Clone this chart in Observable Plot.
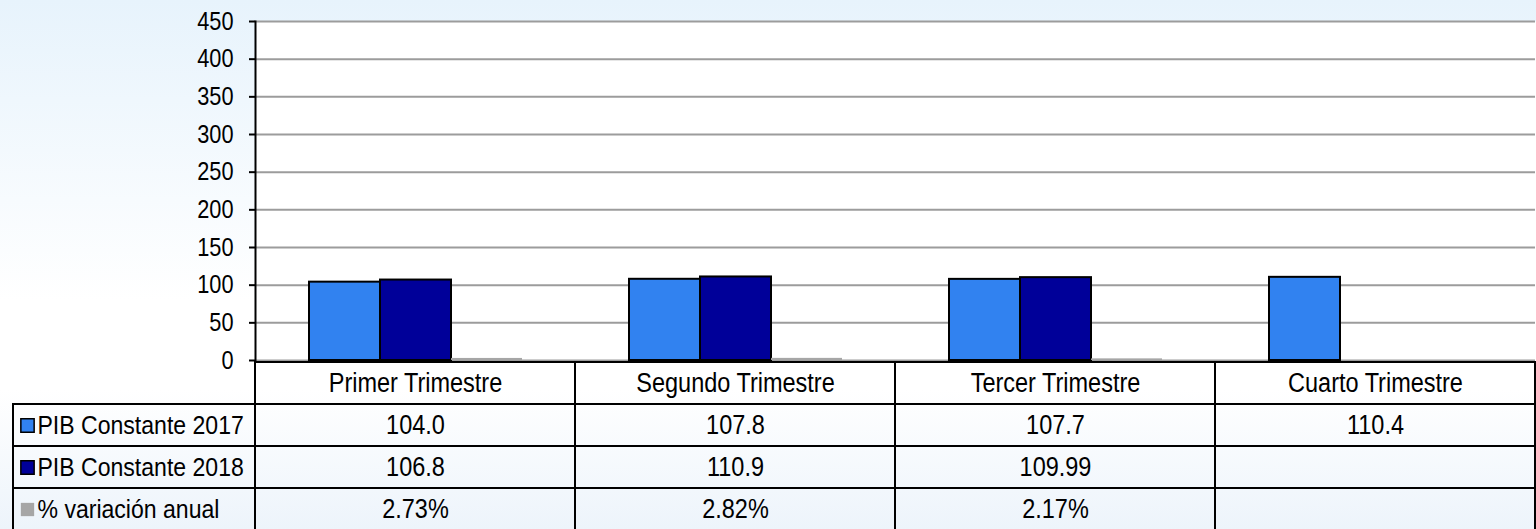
<!DOCTYPE html>
<html>
<head>
<meta charset="utf-8">
<script src="https://cdn.jsdelivr.net/npm/d3@7"></script>
<script src="https://cdn.jsdelivr.net/npm/@observablehq/plot@0.6"></script>
<style>
html, body {
  margin: 0; padding: 0; width: 1536px; height: 529px; overflow: hidden;
  background: linear-gradient(180deg, #e7f3fc 0px, #ffffff 300px, #ffffff 390px, #edf4fb 529px);
}
#chart { position: relative; width: 1536px; height: 529px; }
#chart svg { position: absolute; left: 0; display: block; background: transparent; }
</style>
</head>
<body>
<div id="chart"></div>
<script>
// ---- data ----
const categories = ["Primer Trimestre", "Segundo Trimestre", "Tercer Trimestre", "Cuarto Trimestre"];
const seriesNames = ["PIB Constante 2017", "PIB Constante 2018", "% variación anual"];
const pib2017 = [104.0, 107.8, 107.7, 110.4];
const pib2018 = [106.8, 110.9, 109.99, null];
const variacion = [2.73, 2.82, 2.17, null];
const label2017 = ["104.0", "107.8", "107.7", "110.4"];
const label2018 = ["106.8", "110.9", "109.99", ""];
const labelVar = ["2.73%", "2.82%", "2.17%", ""];
const yTicks = [0, 50, 100, 150, 200, 250, 300, 350, 400, 450];
const colors = ["#3182f0", "#000099", "#a6a6a6"];

// ---- derived tables ----
const seriesValues = [pib2017, pib2018, variacion];
const seriesLabels = [label2017, label2018, labelVar];
const bars = [];
categories.forEach((c, i) => {
  seriesNames.forEach((s, j) => {
    const v = seriesValues[j][i];
    if (v != null) bars.push({cat: c, series: s, value: v});
  });
});
const rows = ["header", ...seriesNames];
const cells = [];
categories.forEach((c, i) => {
  cells.push({cat: c, row: "header", text: c});
  seriesNames.forEach((s, j) => cells.push({cat: c, row: s, text: seriesLabels[j][i]}));
});

const font = '"Liberation Sans", Arial, sans-serif';
const fs = 25;
const container = document.getElementById("chart");

// ---- bar chart ----
const chart = Plot.plot({
  width: 1536, height: 361,
  marginLeft: 253, marginRight: 0, marginTop: 21, marginBottom: 1,
  style: {background: "transparent", fontFamily: font, fontSize: fs + "px", color: "black", overflow: "visible"},
  fx: {domain: categories, padding: 0, axis: null},
  x: {domain: seriesNames, paddingInner: 0, paddingOuter: 0.73, axis: null},
  y: {domain: [0, 450], axis: null},
  color: {domain: seriesNames, range: colors},
  marks: [
    Plot.frame({fill: "white", stroke: null, insetRight: -1}),
    Plot.gridY(yTicks, {stroke: "#9c9c9c", strokeOpacity: 1, strokeWidth: 2}),
    Plot.barY(bars.filter(d => d.series !== seriesNames[2]), {fx: "cat", x: "series", y: "value", fill: "series", stroke: "black", strokeWidth: 2}),
    Plot.barY(bars.filter(d => d.series === seriesNames[2]), {fx: "cat", x: "series", y: "value", fill: "series"}),
    Plot.axisY(yTicks, {tickSize: 6, tickPadding: 16, strokeWidth: 2, fontSize: fs, label: null, stroke: "black"}),
    Plot.frame({anchor: "left", facetAnchor: "left", stroke: "black", strokeWidth: 2})
  ]
});
chart.style.top = "0px";
container.appendChild(chart);

// ---- data table ----
const table = Plot.plot({
  width: 1536, height: 170,
  marginLeft: 253, marginRight: 0, marginTop: 0, marginBottom: 0,
  style: {background: "transparent", fontFamily: font, fontSize: fs + "px", color: "black"},
  x: {domain: categories, padding: 0, axis: null},
  y: {domain: rows, padding: 0, axis: null},
  color: {domain: seriesNames, range: colors},
  marks: [
    Plot.cell(cells, {x: "cat", y: "row", fill: "none", stroke: "black", strokeWidth: 2}),
    Plot.cell(seriesNames, {y: d => d, insetLeft: -240, fill: "none", stroke: "black", strokeWidth: 2}),
    Plot.text(cells, {x: "cat", y: "row", text: "text", fontSize: 27, fill: "black"}),
    Plot.dot(seriesNames.slice(0, 2), {y: d => d, frameAnchor: "left", dx: -226, symbol: "square", r: 7.5, fill: d => d, stroke: "black", strokeWidth: 1.5}),
    Plot.dot(seriesNames.slice(2), {y: d => d, frameAnchor: "left", dx: -226, symbol: "square", r: 7.5, fill: d => d}),
    Plot.text(seriesNames, {y: d => d, frameAnchor: "left", textAnchor: "start", dx: -216, text: d => d, fontSize: 26.5, fill: "black"})
  ]
});
table.style.top = "361px";
container.appendChild(table);

// condense the text horizontally (the original uses a narrow face);
// each text is scaled about its own anchor point
container.querySelectorAll("text").forEach(el => {
  const t = el.getAttribute("transform");
  if (t) el.setAttribute("transform", t + " scale(0.87,1)");
});
</script>
</body>
</html>
